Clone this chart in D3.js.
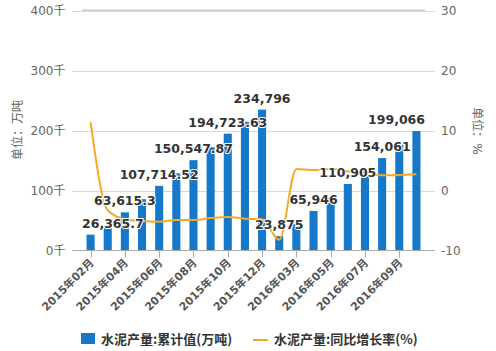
<!DOCTYPE html>
<html lang="zh">
<head>
  <meta charset="UTF-8">
  <title>水泥产量</title>
  <script src="https://cdn.jsdelivr.net/npm/d3@7"></script>
  <style>
    body { margin: 0; background: #fff; }
    text { font-family: 'DejaVu Sans', 'Noto Sans CJK SC', sans-serif; }
  </style>
</head>
<body>
<script>
  // 月份
  const months = ['2015年02月', '2015年03月', '2015年04月', '2015年05月', '2015年06月', '2015年07月',
    '2015年08月', '2015年09月', '2015年10月', '2015年11月', '2015年12月',
    '2016年02月', '2016年03月', '2016年04月', '2016年05月', '2016年06月', '2016年07月',
    '2016年08月', '2016年09月', '2016年10月']
  // 累计值(万吨)
  const totals = [26365.7, 42000, 63615.3, 85500, 107714.52, 128500, 150547.87, 172000, 194723.63, 214500, 234796,
    23875, 44000, 65946, 87000, 110905, 131500, 154061, 176500, 199066]
  // 同比增长率(%)
  const growth = [11.4, -3.3, -4.8, -5.1, -5.2, -4.9, -4.9, -4.6, -4.4, -4.7, -4.8,
    -8.2, 3.6, 3.4, 3.6, 3.2, 2.7, 2.55, 2.6, 2.7]
  const leftTicks = [0, 100000, 200000, 300000, 400000]
  const rightTicks = [-10, 0, 10, 20, 30]
  const labelIdx = [0, 2, 4, 6, 8, 10, 11, 13, 15, 17, 19]

  const width = 496, height = 351
  const plot = { left: 82, right: 425, top: 10.5, bottom: 250.5 }
  const barColor = '#1578c8'
  const lineColor = '#f4a922'

  const svg = d3.select('body').append('svg').attr('width', width).attr('height', height)

  const x = d3.scaleBand()
    .domain(d3.range(months.length))
    .range([plot.left, plot.right])
    .paddingInner(0.53)
    .paddingOuter(0.265)
  const cx = i => x(i) + x.bandwidth() / 2

  const y = d3.scaleLinear().domain([0, 400000]).range([plot.bottom, plot.top])
  const y2 = d3.scaleLinear().domain([-10, 30]).range([plot.bottom, plot.top])

  // 그리드
  svg.append('g')
    .selectAll('line')
    .data(leftTicks.slice(1))
    .join('line')
    .attr('x1', 72).attr('x2', 435)
    .attr('y1', d => Math.round(y(d)) + 0.5).attr('y2', d => Math.round(y(d)) + 0.5)
    .attr('stroke', '#d9d9d9')
  svg.append('line')
    .attr('x1', plot.left).attr('x2', plot.right)
    .attr('y1', y(400000)).attr('y2', y(400000))
    .attr('stroke', '#d6d6d6').attr('stroke-width', 2.5)

  // 왼쪽 축
  svg.append('g')
    .selectAll('text')
    .data(leftTicks)
    .join('text')
    .attr('x', 65.5)
    .attr('y', d => y(d))
    .attr('dy', '0.36em')
    .attr('text-anchor', 'end')
    .style('font-size', '12px')
    .attr('fill', '#666')
    .text(d => d / 1000 + '千')

  // 오른쪽 축
  svg.append('g')
    .selectAll('text')
    .data(rightTicks)
    .join('text')
    .attr('x', 441)
    .attr('y', d => y2(d))
    .attr('dy', '0.36em')
    .style('font-size', '12px')
    .attr('fill', '#666')
    .text(d => d)

  svg.append('text')
    .attr('transform', 'translate(18,130) rotate(-90)')
    .attr('text-anchor', 'middle').attr('dy', '0.35em')
    .style('font-size', '12px').attr('fill', '#666')
    .text('单位：万吨')
  svg.append('text')
    .attr('transform', 'translate(477,131) rotate(90)')
    .attr('text-anchor', 'middle').attr('dy', '0.35em')
    .style('font-size', '12px').attr('fill', '#666')
    .text('单位：%')

  // 막대
  svg.append('g')
    .attr('fill', barColor)
    .selectAll('rect')
    .data(totals)
    .join('rect')
    .attr('x', (d, i) => x(i))
    .attr('y', d => y(d))
    .attr('width', x.bandwidth())
    .attr('height', d => y(0) - y(d))

  // x축
  svg.append('line')
    .attr('x1', 72).attr('x2', 435)
    .attr('y1', plot.bottom).attr('y2', plot.bottom)
    .attr('stroke', '#aaa')
  const xTicks = d3.range(0, months.length, 2)
  svg.append('g')
    .selectAll('line')
    .data(xTicks)
    .join('line')
    .attr('x1', i => Math.round(cx(i)) + 0.5).attr('x2', i => Math.round(cx(i)) + 0.5)
    .attr('y1', plot.bottom).attr('y2', plot.bottom + 7)
    .attr('stroke', '#aaa')
  svg.append('g')
    .selectAll('text')
    .data(xTicks)
    .join('text')
    .attr('transform', i => `translate(${cx(i) + 4},${plot.bottom + 13}) rotate(-45)`)
    .attr('text-anchor', 'end')
    .style('font-size', '11px')
    .attr('font-weight', 'bold')
    .attr('fill', '#555')
    .text(i => months[i])

  // 증감률 선
  const line = d3.line()
    .x((d, i) => cx(i))
    .y(d => y2(d))
    .curve(d3.curveMonotoneX)
  svg.append('path')
    .datum(growth)
    .attr('d', line)
    .attr('fill', 'none')
    .attr('stroke', lineColor)
    .attr('stroke-width', 2)

  // 데이터 라벨
  const labels = svg.append('g')
    .selectAll('text')
    .data(labelIdx)
    .join('text')
    .attr('x', i => cx(i))
    .attr('y', i => y(totals[i]) - 7)
    .attr('text-anchor', 'middle')
    .style('font-size', '12.5px')
    .attr('font-weight', 'bold')
    .attr('fill', '#333')
    .attr('stroke', '#fff')
    .attr('stroke-width', 2)
    .attr('stroke-linejoin', 'round')
    .attr('paint-order', 'stroke')
    .text(i => d3.format(',')(totals[i]))
  labels.each(function(i) {
    const w = this.getComputedTextLength()
    let c = cx(i)
    if (c - w / 2 < plot.left) c = plot.left + w / 2
    if (c + w / 2 > plot.right) c = plot.right - w / 2
    d3.select(this).attr('x', c)
  })

  // 범례
  svg.append('rect')
    .attr('x', 81).attr('y', 333).attr('width', 14).attr('height', 11)
    .attr('fill', barColor)
  svg.append('text')
    .attr('x', 101).attr('y', 344)
    .style('font-size', '13px').attr('font-weight', 'bold').attr('fill', '#333')
    .style('font-family', "'Noto Sans CJK SC', sans-serif")
    .text('水泥产量:累计值(万吨)')
  svg.append('line')
    .attr('x1', 253).attr('x2', 268).attr('y1', 340).attr('y2', 340)
    .attr('stroke', lineColor).attr('stroke-width', 2)
  svg.append('text')
    .attr('x', 274).attr('y', 344)
    .style('font-size', '13px').attr('font-weight', 'bold').attr('fill', '#333')
    .style('font-family', "'Noto Sans CJK SC', sans-serif")
    .text('水泥产量:同比增长率(%)')
</script>
</body>
</html>
